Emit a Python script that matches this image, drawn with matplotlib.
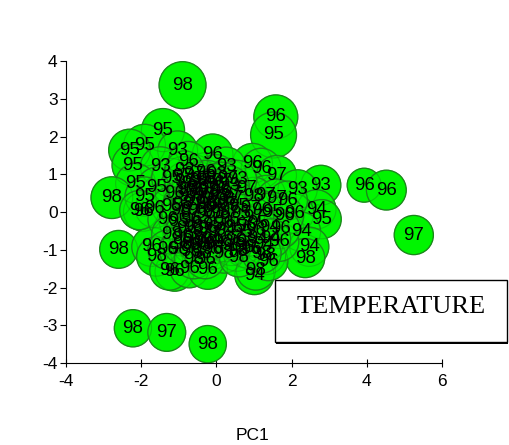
import numpy as np
import matplotlib
matplotlib.use("Agg")
import matplotlib.pyplot as plt
from matplotlib.patches import Rectangle

plt.rcParams['font.family'] = ['Liberation Sans', 'DejaVu Sans']
plt.rcParams['axes.unicode_minus'] = False

# PCA scores with temperature labels
pc1 = [-0.90, 1.58, 1.52, -1.42, -1.91, -2.31, -2.22, -1.03, -1.49, -0.10,
       0.96, 1.19, 1.60, -2.15, -1.58, -2.78, -2.60, -2.22, -1.32, -0.23,
       3.93, 4.52, 5.25, 2.78, 2.16, 2.66, 2.80, 2.07, 2.25, 2.47,
       2.36, 1.01, 1.05, 1.32, 1.38, -1.91, -1.95, -1.64, -1.73, -1.60,
       -1.11, -1.25, -0.72, -0.23, -0.14, 1.67, 0.26, 0.79, 1.32, -2.05,
       -1.20, -0.90, -0.60, -0.30, 0.00, 0.30, -1.10, -0.80, -0.50, -0.20,
       0.10, 0.40, 1.00, 1.60, 1.90, -1.20, -0.90, -0.60, -0.30, 0.00,
       0.30, 0.60, 0.90, 1.20, 1.50, 1.80, -1.30, -1.00, -0.70, -0.40,
       -0.10, 0.20, 0.50, 0.80, 1.10, 1.40, 1.70, -1.20, -0.90, -0.60,
       -0.35, 0.20, 0.50, 0.80, 1.10, -1.30, -1.00, -0.70, -0.40, -0.10,
       0.20, 0.55, 0.90, -0.40, 0.55, -0.75,
       -0.85, -0.65, -0.45, -0.25, -0.05, 0.15, 0.35, -0.75, -0.55, -0.35,
       -0.15, 0.05, 0.25, 0.45, -0.95, -0.70, -0.50, -0.30, -0.10, 0.10,
       0.35, 0.65, -0.80, -0.60, -0.40, -0.20, 0.00, 0.25, 0.70, 1.05,
       -0.90, -0.65, -0.45, -0.25, -0.05, 0.40, 0.75, 1.25, -0.75, -0.50,
       -0.20, 0.05, 0.35, 1.00, 1.45, -0.60, -0.30, 0.60, 1.20, -0.85]
pc2 = [3.36, 2.52, 2.04, 2.17, 1.77, 1.64, 1.24, 1.62, 1.20, 1.53,
       1.29, 1.16, 0.97, 0.76, 0.66, 0.38, -0.99, -3.08, -3.19, -3.50,
       0.71, 0.58, -0.61, 0.71, 0.60, 0.07, -0.19, -0.04, -0.52, -0.92,
       -1.22, -1.67, -1.55, -1.14, -1.30, 0.41, 0.01, 0.10, -0.92, -1.18,
       -1.58, -1.55, -1.49, -1.53, -0.74, -0.79, 1.20, 0.63, 0.45, 0.05,
       0.90, 0.95, 1.00, 1.05, 1.00, 0.90, 0.50, 0.60, 0.55, 0.60,
       0.55, 0.50, 0.40, 0.35, 0.30, 0.15, 0.20, 0.25, 0.20, 0.15,
       0.20, 0.15, 0.10, 0.05, 0.00, -0.10, -0.20, -0.25, -0.20, -0.30,
       -0.35, -0.30, -0.40, -0.35, -0.30, -0.40, -0.45, -0.60, -0.65, -0.70,
       -0.75, -0.80, -0.75, -0.80, -0.70, -1.00, -1.00, -1.05, -1.10, -1.00,
       -1.10, -1.05, -1.00, 0.85, 0.85, 1.35,
       0.80, 0.75, 0.80, 0.85, 0.75, 0.80, 0.70, 0.40, 0.35, 0.45,
       0.35, 0.40, 0.30, 0.35, 0.05, 0.00, 0.05, -0.05, 0.00, -0.05,
       0.05, -0.05, -0.45, -0.40, -0.50, -0.45, -0.55, -0.50, -0.55, -0.50,
       -0.85, -0.85, -0.90, -0.80, -0.85, -0.90, -0.95, -0.85, 0.60, 0.65,
       0.20, 0.60, -0.20, -0.15, -0.70, -1.25, -1.25, -1.20, -1.10, 1.10]
temperature = [98, 96, 95, 95, 95, 95, 95, 93, 93, 96,
               96, 96, 97, 95, 95, 98, 98, 98, 97, 98,
               96, 96, 97, 93, 93, 94, 95, 96, 94, 94,
               98, 94, 98, 98, 96, 95, 96, 96, 96, 98,
               96, 96, 96, 96, 94, 96, 93, 97, 97, 96,
               95, 97, 97, 96, 93, 97, 96, 97, 98, 97,
               96, 97, 98, 97, 96, 95, 98, 97, 96, 98,
               97, 95, 97, 96, 95, 96, 96, 95, 96, 97,
               95, 96, 95, 96, 95, 94, 96, 98, 96, 98,
               96, 98, 96, 98, 94, 96, 98, 96, 98, 96,
               98, 98, 96, 95, 93, 96,
               97, 93, 97, 98, 96, 97, 93, 97, 98, 96,
               97, 98, 96, 97, 98, 97, 96, 98, 97, 96,
               97, 95, 96, 98, 97, 96, 98, 94, 95, 96,
               98, 96, 98, 96, 94, 98, 96, 94, 97, 98,
               96, 97, 96, 97, 94, 98, 96, 98, 98, 93]
# third component, drives the bubble size
pc3 = [1.00, 0.77, 0.92, 0.70, 0.60, 0.60, 0.60, 0.45, 0.45, 0.50,
       0.45, 0.45, 0.45, 0.45, 0.45, 0.60, 0.30, 0.25, 0.30, 0.25,
       0.00, 0.45, 0.40, 0.45, 0.40, 0.40, 0.40, 0.40, 0.40, 0.40] + [0.40] * 126

diam_px = 34 + 13 * np.array(pc3)
sizes = (diam_px * 72 / 100) ** 2

fig = plt.figure(figsize=(5.1, 4.45), dpi=100)
ax = fig.add_axes([66 / 510, 1 - 363 / 445, 376 / 510, 302 / 445])

ax.scatter(pc1, pc2, s=sizes, facecolor='#00f500', edgecolor='#1a8c1a',
           linewidth=0.9, zorder=2, clip_on=False)
ax.scatter(pc1, pc2, s=sizes, facecolor='none', edgecolor=(0.1, 0.5, 0.1, 0.4),
           linewidth=0.8, zorder=3, clip_on=False)
for x, y, t in zip(pc1, pc2, temperature):
    ax.text(x, y, str(t), ha='center', va='center', fontsize=13.5,
            color='black', zorder=4)

ax.set_xlim(-4, 6)
ax.set_ylim(-4, 4)
ax.set_xticks(range(-4, 7, 2))
ax.set_yticks(range(-4, 5))
ax.spines['top'].set_visible(False)
ax.spines['right'].set_visible(False)
ax.tick_params(axis='y', direction='out', length=4, labelsize=12.5, pad=2)
ax.tick_params(axis='x', direction='inout', length=6, labelsize=12.5, pad=5)

fig.text(253 / 510, 1 - 435 / 445, 'PC1', ha='center', va='center', fontsize=12.5)

# label box with a thin drop shadow
bx0, by0, bx1, by1 = 275, 280, 507, 342
fig.patches.append(Rectangle(((bx0 + 1.5) / 510, 1 - (by1 + 1.5) / 445),
                             (bx1 - bx0) / 510, (by1 - by0) / 445,
                             transform=fig.transFigure, facecolor='black',
                             edgecolor='none', zorder=5))
fig.patches.append(Rectangle((bx0 / 510, 1 - by1 / 445),
                             (bx1 - bx0) / 510, (by1 - by0) / 445,
                             transform=fig.transFigure, facecolor='white',
                             edgecolor='black', linewidth=1, zorder=6))
fig.text((bx0 + bx1) / 2 / 510, 1 - 307 / 445, 'TEMPERATURE', ha='center',
         va='center', fontsize=19, family='Liberation Serif', zorder=7)

fig.savefig('out.png', dpi=100)
